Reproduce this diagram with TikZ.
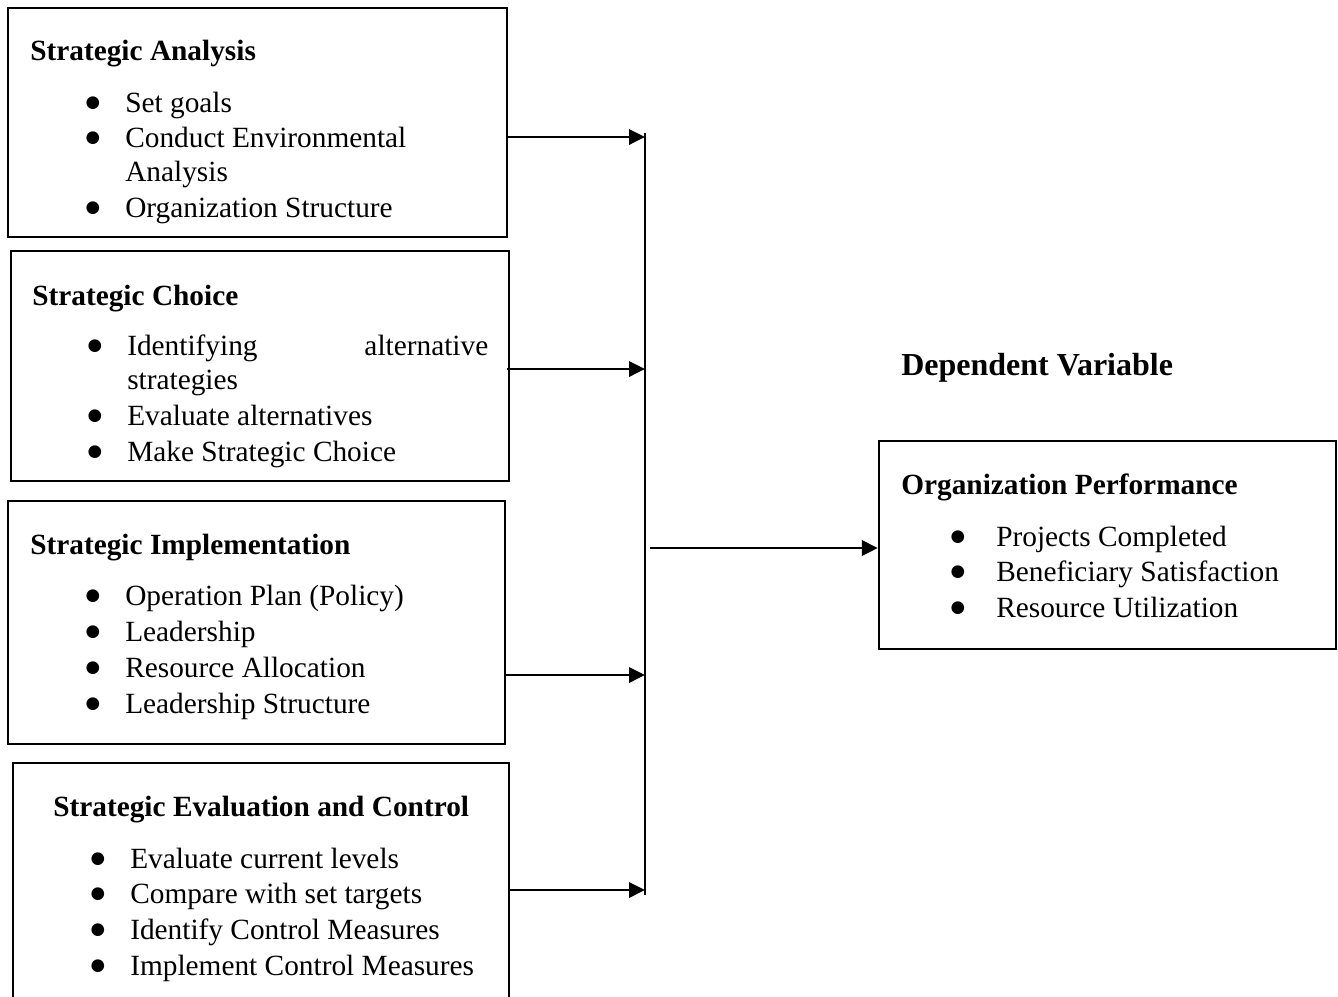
\documentclass[tikz,border=0pt]{standalone}
\usepackage{fontspec}
\setmainfont{Liberation Serif}
\newfontfamily\bulfont{DejaVu Sans}
\usetikzlibrary{arrows.meta,fit}
\newcommand{\bigbul}{\raisebox{4pt}{●}}
\begin{document}
\begin{tikzpicture}[x=0.75pt,y=-0.75pt,
  box/.style={draw, line width=1.8pt, inner sep=0pt},
  txt/.style={anchor=base west, inner sep=0pt, font=\fontsize{22}{26}\selectfont},
  ttl/.style={anchor=base west, inner sep=0pt, font=\fontsize{22}{26}\selectfont\bfseries},
  bul/.style={anchor=base, inner sep=0pt, font=\bulfont\fontsize{12.5}{12.5}\selectfont},
  arr/.style={-{Triangle[length=12pt,width=11.5pt]}, line width=1.8pt},
  busline/.style={line width=0.8pt}]
\useasboundingbox (0,0) rectangle (1338,996);
\begin{scope}
\clip (0,0) rectangle (1338,996);
% boxes
\node[box, fit={(8,8) (507,237)}] (b1) {};
\node[box, fit={(11,251) (509,481)}] (b2) {};
\node[box, fit={(8,501) (505,744)}] (b3) {};
\node[box, fit={(13,763) (509,1010)}] (b4) {};
\node[box, fit={(879,441) (1336,649)}] (b5) {};
\end{scope}
% box 1
\node[ttl] (t1) at (30,60.5) {Strategic Analysis};
\node[bul] (p11) at (93,112.5) {\bigbul};
\node[txt] (i11) at (125,112.5) {Set goals};
\node[bul] (p12) at (93,147.5) {\bigbul};
\node[txt] (i12) at (125,147.5) {Conduct Environmental};
\node[txt] (i12b) at (125,181.5) {Analysis};
\node[bul] (p13) at (93,217.5) {\bigbul};
\node[txt] (i13) at (125,217.5) {Organization Structure};
% box 2
\node[ttl] (t2) at (32,305.5) {Strategic Choice};
\node[bul] (p21) at (95,355.5) {\bigbul};
\node[txt] (i21) at (127,355.5) {\hbox to 270.75pt{Identifying\hfill alternative}};
\node[txt] (i21b) at (127,389.5) {strategies};
\node[bul] (p22) at (95,425.5) {\bigbul};
\node[txt] (i22) at (127,425.5) {Evaluate alternatives};
\node[bul] (p23) at (95,461.5) {\bigbul};
\node[txt] (i23) at (127,461.5) {Make Strategic Choice};
% box 3
\node[ttl] (t3) at (30,554.5) {Strategic Implementation};
\node[bul] (p31) at (93,605.5) {\bigbul};
\node[txt] (i31) at (125,605.5) {Operation Plan (Policy)};
\node[bul] (p32) at (93,641.5) {\bigbul};
\node[txt] (i32) at (125,641.5) {Leadership};
\node[bul] (p33) at (93,677.5) {\bigbul};
\node[txt] (i33) at (125,677.5) {Resource Allocation};
\node[bul] (p34) at (93,713.5) {\bigbul};
\node[txt] (i34) at (125,713.5) {Leadership Structure};
% box 4
\node[ttl] (t4) at (53,816.5) {Strategic Evaluation and Control};
\node[bul] (p41) at (98,868.5) {\bigbul};
\node[txt] (i41) at (130,868.5) {Evaluate current levels};
\node[bul] (p42) at (98,903.5) {\bigbul};
\node[txt] (i42) at (130,903.5) {Compare with set targets};
\node[bul] (p43) at (98,939.5) {\bigbul};
\node[txt] (i43) at (130,939.5) {Identify Control Measures};
\node[bul] (p44) at (98,975.5) {\bigbul};
\node[txt] (i44) at (130,975.5) {Implement Control Measures};
% box 5
\node[ttl] (t5) at (901,494.5) {Organization Performance};
\node[bul] (p51) at (958,546.5) {\bigbul};
\node[txt] (i51) at (996,546.5) {Projects Completed};
\node[bul] (p52) at (958,581.5) {\bigbul};
\node[txt] (i52) at (996,581.5) {Beneficiary Satisfaction};
\node[bul] (p53) at (958,617.5) {\bigbul};
\node[txt] (i53) at (996,617.5) {Resource Utilization};
% heading
\node[anchor=base west, inner sep=0pt, font=\fontsize{24}{28}\selectfont\bfseries] (dv) at (901,375) {Dependent Variable};
% bus and arrows
\coordinate (bustop) at (645,133);
\coordinate (busbot) at (645,895);
\draw[busline] (bustop) -- (busbot);
\coordinate (a1) at (645,137);
\coordinate (a2) at (645,369);
\coordinate (a3) at (645,675);
\coordinate (a4) at (645,890);
\coordinate (s2) at (507,369);
\coordinate (m0) at (650,548);
\draw[arr] (b1.east |- a1) -- (a1);
\draw[arr] (s2) -- (a2);
\draw[arr] (b3.east |- a3) -- (a3);
\draw[arr] (b4.east |- a4) -- (a4);
\draw[arr] (m0) -- (b5.west |- m0);
\end{tikzpicture}
\end{document}
